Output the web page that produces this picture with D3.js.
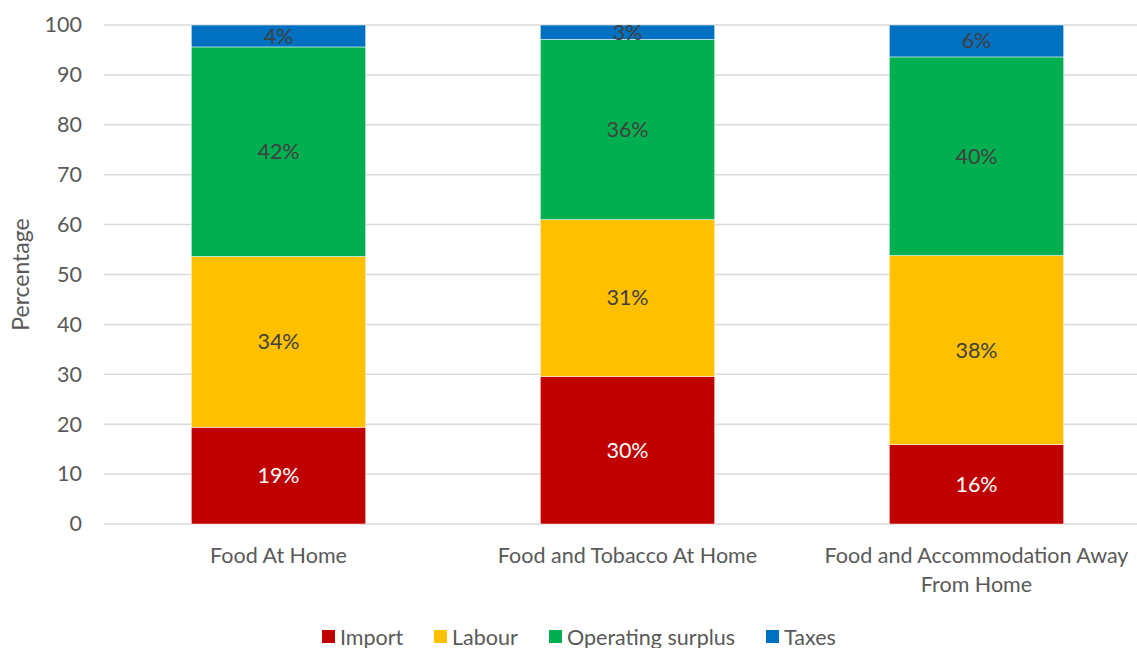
<!DOCTYPE html>
<html>
<head>
<meta charset="UTF-8">
<style>
  body { margin: 0; background: #fff; }
  svg { display: block; font-family: Lato, "Open Sans", sans-serif; }
</style>
</head>
<body>
<svg></svg>
<script src="https://d3js.org/d3.v7.min.js"></script>
<script>
let width = 1137, height = 648;

// data
var categories = ["Food At Home", "Food and Tobacco At Home", "Food and Accommodation Away From Home"];
var seriesNames = ["Import", "Labour", "Operating surplus", "Taxes"];
var importVals = [19.4, 29.6, 15.9];
var labourVals = [34.2, 31.4, 37.9];
var surplusVals = [42.0, 36.1, 39.8];
var taxVals = [4.4, 2.9, 6.4];
var yTicks = [0, 10, 20, 30, 40, 50, 60, 70, 80, 90, 100];
var colors = ["#c00000", "#ffc000", "#00b050", "#0070c0"];
var labelColors = ["#ffffff", "#404040", "#404040", "#404040"];

let svg = d3.select("svg")
    .attr("width", width)
    .attr("height", height);

var margin = {left: 104, top: 25, bottom: 124};
var plotRight = 1151;
var fs = "21.5px";

// rows for the stack
var rows = categories.map((c, i) => ({
    cat: c,
    "Import": importVals[i],
    "Labour": labourVals[i],
    "Operating surplus": surplusVals[i],
    "Taxes": taxVals[i]
}));
var stacked = d3.stack().keys(seriesNames)(rows);

let x = d3.scaleBand()
    .domain(categories)
    .range([margin.left, plotRight])
    .paddingInner(0.5)
    .paddingOuter(0.25);
let y = d3.scaleLinear()
    .domain([0, 100])
    .range([height - margin.bottom, margin.top]);

// gridlines
svg.append("g")
    .selectAll("line")
    .data(yTicks)
    .enter().append("line")
    .attr("x1", margin.left)
    .attr("x2", plotRight)
    .attr("y1", d => y(d))
    .attr("y2", d => y(d))
    .attr("stroke", "#d9d9d9")
    .attr("stroke-width", 1.5);

// y axis labels
var yAxis = d3.axisLeft(y).tickValues(yTicks).tickSize(0).tickPadding(0);
var yg = svg.append("g")
    .attr("transform", "translate(" + (margin.left - 22) + ",0)")
    .call(yAxis);
yg.select(".domain").remove();
yg.selectAll("text")
    .attr("fill", "#595959")
    .style("font-size", fs)
    .style("font-family", "Lato, sans-serif");

// axis title
svg.append("text")
    .attr("transform", "translate(29," + y(50) + ") rotate(-90)")
    .attr("text-anchor", "middle")
    .attr("fill", "#595959")
    .style("font-size", "23px")
    .text("Percentage");

// bars
var layers = svg.append("g")
    .selectAll("g")
    .data(stacked)
    .enter().append("g")
    .attr("fill", (d, i) => colors[i]);

layers.selectAll("rect")
    .data(d => d)
    .enter().append("rect")
    .attr("x", d => x(d.data.cat))
    .attr("width", x.bandwidth())
    .attr("y", d => y(d[1]))
    .attr("height", d => y(d[0]) - y(d[1]))
    .attr("stroke", "#ffffff")
    .attr("stroke-width", 0.5);

// value labels
stacked.forEach((layer, si) => {
    svg.append("g")
        .selectAll("text")
        .data(layer)
        .enter().append("text")
        .attr("x", d => x(d.data.cat) + x.bandwidth() / 2)
        .attr("y", d => (y(d[0]) + y(d[1])) / 2)
        .attr("dy", "0.35em")
        .attr("text-anchor", "middle")
        .attr("fill", labelColors[si])
        .style("font-size", fs)
        .text(d => Math.round(d[1] - d[0]) + "%");
});

// x axis labels (wrapped by hand where Excel wrapped)
var xLines = {
    "Food At Home": ["Food At Home"],
    "Food and Tobacco At Home": ["Food and Tobacco At Home"],
    "Food and Accommodation Away From Home": ["Food and Accommodation Away", "From Home"]
};
var xl = svg.append("g")
    .selectAll("text")
    .data(categories)
    .enter().append("text")
    .attr("x", d => x(d) + x.bandwidth() / 2)
    .attr("y", y(0) + 39)
    .attr("text-anchor", "middle")
    .attr("fill", "#595959")
    .style("font-size", fs);
xl.selectAll("tspan")
    .data(d => xLines[d])
    .enter().append("tspan")
    .attr("x", function() { return d3.select(this.parentNode).attr("x"); })
    .attr("dy", (d, i) => i === 0 ? 0 : 29)
    .text(d => d);

// legend
var legendX = [322, 434, 549, 766];
var legend = svg.append("g")
    .selectAll("g")
    .data(seriesNames)
    .enter().append("g")
    .attr("transform", (d, i) => "translate(" + legendX[i] + ",630)");
legend.append("rect")
    .attr("width", 13)
    .attr("height", 13)
    .attr("fill", (d, i) => colors[i]);
legend.append("text")
    .attr("x", 18)
    .attr("y", 7)
    .attr("dy", "0.35em")
    .attr("fill", "#595959")
    .style("font-size", fs)
    .text(d => d);
</script>
</body>
</html>
